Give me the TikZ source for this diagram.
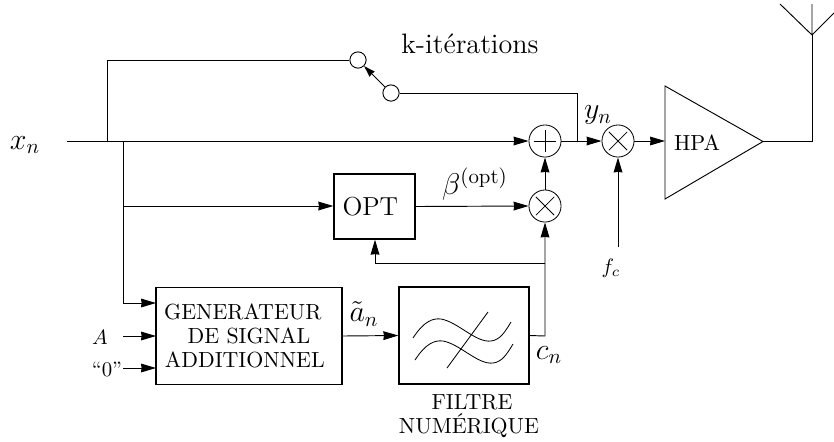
\documentclass[tikz,border=0pt]{standalone}
\usetikzlibrary{arrows.meta,calc}
\newcommand{\fsz}[1]{\fontsize{#1}{#1}\selectfont}
\begin{document}
\begin{tikzpicture}[x=0.48pt,y=-0.48pt,
  wire/.style={line width=0.45pt},
  arr/.style={wire,-{Stealth[length=7.2pt,width=4.2pt,inset=0.3pt]}},
  blockbox/.style={draw,line width=0.65pt,inner sep=0pt,align=center},
  oper/.style={draw,circle,line width=0.4pt,minimum size=15.4pt,inner sep=0pt},
  term/.style={draw,circle,line width=0.45pt,minimum size=7.8pt,inner sep=0pt},
  lab/.style={inner sep=0pt}]
\useasboundingbox (0,0) rectangle (834,441);
% nodes
\node[term] (sw1) at (358,60) {};
\node[term] (sw2) at (391,93) {};
\node[oper] (sum) at (545,141) {};
\node[oper] (mulA) at (618,141) {};
\node[oper] (mulB) at (545,206) {};
\draw[line width=0.35pt] ($(sum)+(0,-5.3pt)$) -- ($(sum)+(0,5.3pt)$) ($(sum)+(-5.3pt,0)$) -- ($(sum)+(5.3pt,0)$);
\foreach \m in {mulA,mulB}{
  \draw[line width=0.35pt] ($(\m)+(-4.4pt,-4.4pt)$) -- ($(\m)+(4.4pt,4.4pt)$)
    ($(\m)+(4.4pt,-4.4pt)$) -- ($(\m)+(-4.4pt,4.4pt)$);
}
\node[blockbox,minimum width=38.9pt,minimum height=31.2pt,font=\fsz{12.5}] (opt) at (374.5,206.5) {OPT\hspace*{4pt}};
\node[blockbox,minimum width=89.3pt,minimum height=46.6pt,font=\fontsize{10.5}{11.6}\selectfont] (gen) at (249,336)
  {GENERATEUR\hspace*{6pt}\\DE SIGNAL\\ADDITIONNEL\hspace*{4pt}};
\node[blockbox,minimum width=62.4pt,minimum height=46.6pt] (fil) at (464,335.5) {};
% HPA
\coordinate (hpaT) at (665,86);
\coordinate (hpaB) at (665,199);
\coordinate (hpaR) at (763,141.5);
\coordinate (hpaL) at (665,141);
\draw[wire,line join=miter] (hpaT) -- (hpaR) -- (hpaB) -- cycle;
\node[lab,font=\fsz{10.5}] (hpa) at (697,143) {HPA};
% coordinates
\coordinate (xs) at (67,141);
\coordinate (b1) at (107,141);
\coordinate (b2) at (123,141);
\coordinate (b1t) at (107,60);
\coordinate (j1) at (123,206);
\coordinate (j2) at (123,303);
\coordinate (genA) at (156,303);
\coordinate (inA) at (123,336);
\coordinate (genB) at (156,336);
\coordinate (inZ) at (123,368);
\coordinate (genC) at (156,368);
\coordinate (fb) at (577,93);
\coordinate (fbb) at (577,141);
\coordinate (filout) at (545,336);
\coordinate (tap) at (545,263);
\coordinate (tapL) at (375,263);
\coordinate (fcs) at (618,247);
\coordinate (antB) at (812,141.5);
\coordinate (antJ) at (812,35);
\coordinate (antT) at (812,4);
\coordinate (antL) at (780,4);
\coordinate (antR) at (834,13);
% connectors
\draw[wire] (sw1.west) -- (b1t) -- (b1);
\draw[wire,-{Stealth[length=5.5pt,width=3.4pt,inset=0.3pt]}] (sw2) -- (sw1);
\draw[wire] (sw2.east) -- (fb) -- (fbb);
\draw[arr] (xs) -- (sum.west);
\draw[arr] (sum.east) -- (mulA.west);
\draw[arr] (mulA.east) -- (hpaL);
\draw[wire] (hpaR) -- (antB) -- (antJ);
\draw[wire] (antJ) -- (antT) (antJ) -- (antL) (antJ) -- (antR);
\draw[arr] (mulB.north) -- (sum.south);
\draw[arr] (fcs) -- (mulA.south);
\draw[arr] (opt.east) -- (mulB.west);
\draw[wire] (b2) -- (j2);
\draw[arr] (j1) -- (j1-|opt.west);
\draw[arr] (j2) -- (genA);
\draw[arr] (inA) -- (genB);
\draw[arr] (inZ) -- (genC);
\draw[arr] (gen.east) -- (fil.west);
\draw[arr] (fil.east) -- (filout) -- (mulB.south);
\draw[arr] (tap) -- (tapL) -- (tapL|-opt.south);
% filter symbol
\coordinate (c1s) at (413,338);
\coordinate (c1e) at (511,322);
\coordinate (c2s) at (415,360);
\coordinate (c2e) at (513,344);
\coordinate (dgA) at (447,368);
\coordinate (dgB) at (488,312);
\draw[line width=0.4pt] (c1s) .. controls (424,321) and (433,318) .. (441,319)
  .. controls (458,322) and (476,343) .. (491,341) .. controls (500,340) and (505,332) .. (c1e);
\draw[line width=0.4pt] (c2s) .. controls (426,343) and (435,340) .. (443,341)
  .. controls (460,344) and (478,365) .. (493,363) .. controls (502,362) and (507,354) .. (c2e);
\draw[line width=0.4pt] (dgA) -- (dgB);
% labels
\node[lab,font=\fsz{14}] (lxn) at (25,145) {$x_n$};
\node[lab,font=\fsz{13.5}] (lk) at (470,44) {k-itérations};
\node[lab,font=\fsz{14}] (lyn) at (598,115) {$y_n$};
\node[lab,font=\fsz{14}] (lbeta) at (475,184) {$\beta^{(\mathrm{opt})}$};
\node[lab,font=\fsz{14}] (lan) at (364,314) {$\tilde a_n$};
\node[lab,font=\fsz{14}] (lcn) at (549,355) {$c_n$};
\node[lab,font=\fsz{10}] (lfc) at (611,268) {$f_c$};
\node[lab,font=\fsz{10}] (lA) at (100,337) {$A$};
\node[lab,font=\fsz{10}] (lz) at (107,369) {``0''};
\node[lab,font=\fsz{10.5}] (lf1) at (472,402) {FILTRE};
\node[lab,font=\fsz{10.5}] (lf2) at (469,426) {NUMÉRIQUE};
\end{tikzpicture}
\end{document}
